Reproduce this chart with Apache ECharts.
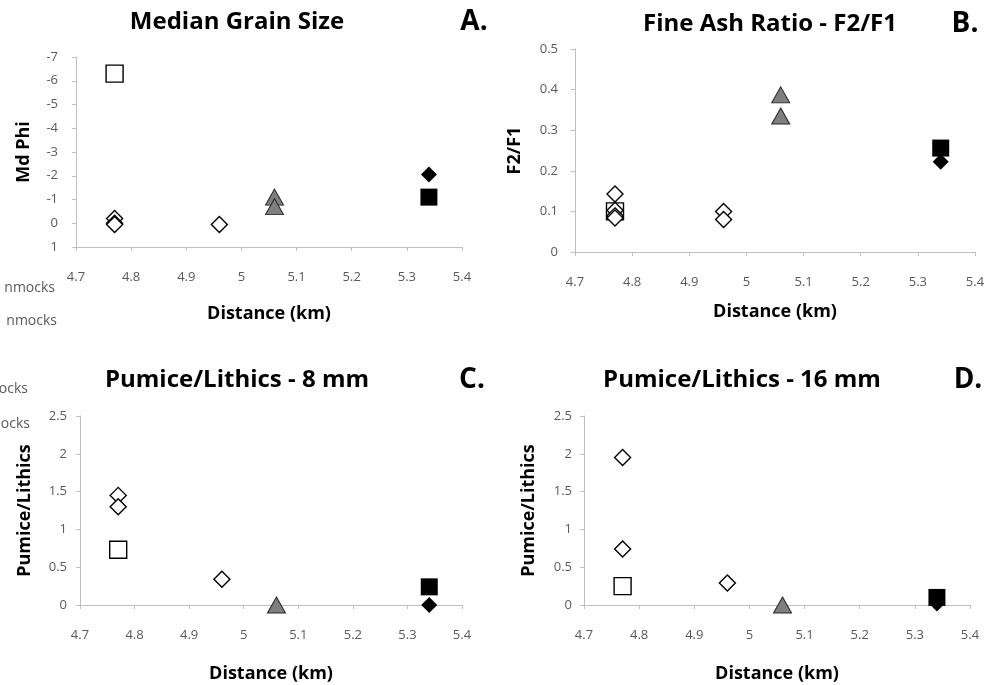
<!DOCTYPE html>
<html>
<head>
<meta charset="utf-8">
<script src="https://cdn.jsdelivr.net/npm/echarts@6/dist/echarts.min.js"></script>
<style>
html,body{margin:0;padding:0;background:#fff;}
#main{width:990px;height:685px;}
</style>
</head>
<body>
<div id="main"></div>
<script>
// x positions (km)
var xTicks=[4.7,4.8,4.9,5,5.1,5.2,5.3,5.4];

// A. Median grain size (Md Phi)
var aOpenDia=[[4.77,-0.2],[4.77,0],[4.77,0.05],[4.96,0.05]];
var aOpenSq=[[4.77,-6.3]];
var aTri=[[5.06,-1.1],[5.06,-0.7]];
var aBlackDia=[[5.34,-2.05]];
var aBlackSq=[[5.34,-1.1]];

// B. Fine ash ratio F2/F1
var bOpenDia=[[4.77,0.143],[4.77,0.103],[4.77,0.089],[4.77,0.084],[4.96,0.1],[4.96,0.08]];
var bOpenSq=[[4.77,0.1]];
var bTri=[[5.06,0.387],[5.06,0.335]];
var bBlackDia=[[5.34,0.222]];
var bBlackSq=[[5.34,0.256]];

// C. Pumice/Lithics 8 mm
var cOpenDia=[[4.77,1.45],[4.77,1.3],[4.96,0.34]];
var cOpenSq=[[4.77,0.73]];
var cTri=[[5.06,0]];
var cBlackDia=[[5.34,0]];
var cBlackSq=[[5.34,0.24]];

// D. Pumice/Lithics 16 mm
var dOpenDia=[[4.77,1.95],[4.77,0.74],[4.96,0.29]];
var dOpenSq=[[4.77,0.25]];
var dTri=[[5.06,0]];
var dBlackDia=[[5.34,0.02]];
var dBlackSq=[[5.34,0.1]];

var myChart=echarts.init(document.getElementById('main'));

var grey='#595959';
var axisCol='#bfbfbf';
var font='"Open Sans", sans-serif';

function xAx(i){
  return {
    type:'value',gridIndex:i,min:4.7,max:5.4,interval:0.1,
    name:'Distance (km)',nameLocation:'middle',nameGap:[58,51,60,60][i],
    nameTextStyle:{fontFamily:font,fontWeight:'bold',fontSize:18,color:'#000'},
    axisLine:{show:true,onZero:false,lineStyle:{color:axisCol}},
    axisTick:{show:true,length:4,lineStyle:{color:axisCol}},
    axisLabel:{margin:24,fontFamily:font,fontSize:13,color:grey},
    splitLine:{show:false}
  };
}
function yAx(i,min,max,step,name,gap,margin){
  return {
    type:'value',gridIndex:i,min:min,max:max,interval:step,inverse:i===0,
    name:name,nameLocation:'middle',nameGap:gap,
    nameTextStyle:{fontFamily:font,fontWeight:'bold',fontSize:18,color:'#000'},
    axisLine:{show:true,lineStyle:{color:axisCol}},
    axisTick:{show:true,length:4,lineStyle:{color:axisCol}},
    axisLabel:{margin:margin,fontFamily:font,fontSize:13,color:grey},
    splitLine:{show:false}
  };
}

function panelSeries(i,od,os,tr,bd,bs){
  return [
    {type:'scatter',xAxisIndex:i,yAxisIndex:i,data:os,symbol:'rect',symbolSize:17,
     itemStyle:{color:'#fff',borderColor:'#000',borderWidth:1.4,opacity:1}},
    {type:'scatter',xAxisIndex:i,yAxisIndex:i,data:od,symbol:'diamond',symbolSize:[16,16],
     itemStyle:{color:'#fff',borderColor:'#000',borderWidth:1.4,opacity:1}},
    {type:'scatter',xAxisIndex:i,yAxisIndex:i,data:tr,symbol:'triangle',symbolSize:[18,16],
     itemStyle:{color:'#7f7f7f',borderColor:'#262626',borderWidth:1,opacity:1}},
    {type:'scatter',xAxisIndex:i,yAxisIndex:i,data:bd,symbol:'diamond',symbolSize:[16,16],
     itemStyle:{color:'#000',opacity:1}},
    {type:'scatter',xAxisIndex:i,yAxisIndex:i,data:bs,symbol:'rect',symbolSize:17,
     itemStyle:{color:'#000',opacity:1}}
  ];
}

function txt(x,y,s,size,align,col,bold){
  return {type:'text',x:x,y:y,silent:true,
    style:{text:s,font:(bold?'bold ':'')+size+'px '+font,fill:col,
      align:align,textAlign:align,verticalAlign:'middle',textVerticalAlign:'middle'}};
}

var option={
  animation:false,
  backgroundColor:'#fff',
  grid:[
    {left:76,top:57,width:386,height:190},
    {left:575,top:49,width:400,height:203},
    {left:80,top:416,width:382,height:189},
    {left:584,top:416,width:386,height:189}
  ],
  xAxis:[xAx(0),xAx(1),xAx(2),xAx(3)],
  yAxis:[
    yAx(0,-7,1,1,'Md Phi',43,18),
    yAx(1,0,0.5,0.1,'F2/F1',51,17),
    yAx(2,0,2.5,0.5,'Pumice/Lithics',46,13),
    yAx(3,0,2.5,0.5,'Pumice/Lithics',46,12)
  ],
  graphic:[
    txt(237,22,'Median Grain Size',24,'center','#000',true),
    txt(474,22,'A.',28,'center','#000',true),
    txt(770,24,'Fine Ash Ratio - F2/F1',24,'center','#000',true),
    txt(965,24,'B.',28,'center','#000',true),
    txt(237,380,'Pumice/Lithics - 8 mm',24,'center','#000',true),
    txt(472,380,'C.',28,'center','#000',true),
    txt(742,380,'Pumice/Lithics - 16 mm',24,'center','#000',true),
    txt(968,380,'D.',28,'center','#000',true),
    txt(55,288,'nmocks',14,'right',grey,false),
    txt(57,321,'nmocks',14,'right',grey,false),
    txt(28,389,'ocks',14,'right',grey,false),
    txt(30,424,'ocks',14,'right',grey,false)
  ],
  series:[].concat(
    panelSeries(0,aOpenDia,aOpenSq,aTri,aBlackDia,aBlackSq),
    panelSeries(1,bOpenDia,bOpenSq,bTri,bBlackDia,bBlackSq),
    panelSeries(2,cOpenDia,cOpenSq,cTri,cBlackDia,cBlackSq),
    panelSeries(3,dOpenDia,dOpenSq,dTri,dBlackDia,dBlackSq)
  )
};
myChart.setOption(option);
</script>
</body>
</html>
